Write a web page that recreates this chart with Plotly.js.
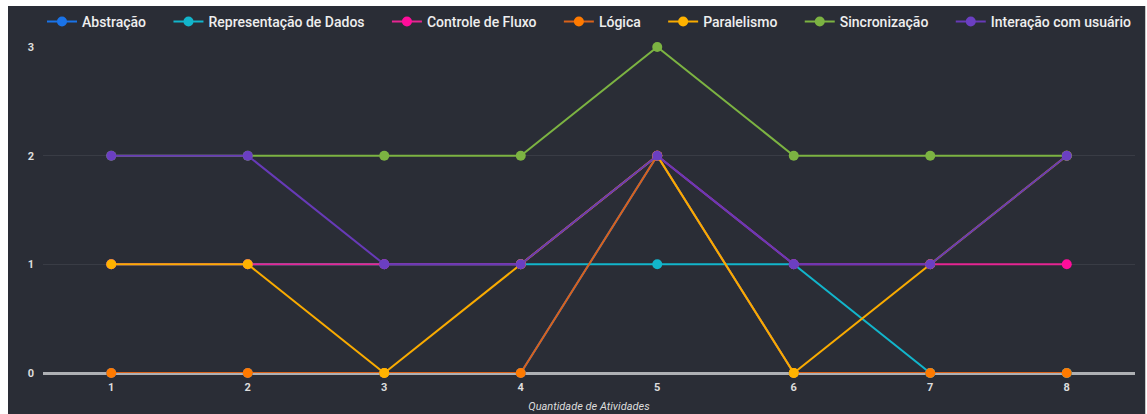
<!DOCTYPE html>
<html>
<head>
<meta charset="utf-8">
<script src="https://cdn.plot.ly/plotly-3.0.1.min.js"></script>
<style>
  html, body { margin: 0; padding: 0; background: #ffffff; width: 1147px; height: 414px; overflow: hidden; }
  #chart { position: absolute; left: 8px; top: 6px; width: 1137px; height: 408px; border-right: 1px solid #c8c8c8; }
</style>
</head>
<body>
<div id="chart"></div>
<script>
const categories = [1, 2, 3, 4, 5, 6, 7, 8];
const seriesNames = ["Abstração", "Representação de Dados", "Controle de Fluxo", "Lógica", "Paralelismo", "Sincronização", "Interação com usuário"];
const abstracao = [0, 0, 0, 0, 2, 0, 0, 0];
const representacaoDados = [1, 1, 1, 1, 1, 1, 0, 0];
const controleFluxo = [1, 1, 1, 1, 2, 1, 1, 1];
const logica = [0, 0, 0, 0, 2, 0, 0, 0];
const paralelismo = [1, 1, 0, 1, 2, 0, 1, 2];
const sincronizacao = [2, 2, 2, 2, 3, 2, 2, 2];
const interacaoUsuario = [2, 2, 1, 1, 2, 1, 1, 2];
const yTicks = [0, 1, 2, 3];
const xTitle = "Quantidade de Atividades";

const seriesValues = [abstracao, representacaoDados, controleFluxo, logica, paralelismo, sincronizacao, interacaoUsuario];
const lineColors = ["#1a73e8", "#12b5cb", "#e52592", "#d9621a", "#f9ab00", "#7cb342", "#673ab7"];
const markerColors = ["#1a73e8", "#12b5cb", "#ff0d9a", "#ff7a00", "#ffb300", "#7cb342", "#6b3fc2"];
const legendPad = "\u00a0\u00a0\u00a0\u00a0\u00a0";

const traces = seriesNames.map((name, i) => ({
  type: "scatter",
  mode: "lines+markers",
  name: name + (i < seriesNames.length - 1 ? legendPad : ""),
  x: categories,
  y: seriesValues[i],
  line: { color: lineColors[i], width: 2 },
  marker: { color: markerColors[i], size: 10 },
  cliponaxis: false
}));

const layout = {
  paper_bgcolor: "#2a2d36",
  plot_bgcolor: "#2a2d36",
  margin: { l: 35, r: 10, t: 41, b: 41, autoexpand: false },
  font: { family: "Roboto, 'Noto Sans', sans-serif", color: "#e8e8e8" },
  showlegend: true,
  legend: {
    orientation: "h",
    xref: "paper",
    x: 0.5, xanchor: "center",
    yref: "container",
    y: 0.961, yanchor: "middle",
    font: { size: 14, color: "#eeeeee", family: "Roboto, sans-serif", weight: 500 },
    itemwidth: 30,
    tracegroupgap: 0,
    bgcolor: "rgba(0,0,0,0)"
  },
  xaxis: {
    range: [0.5, 8.5],
    tickvals: categories,
    ticktext: categories.map(String),
    showgrid: false,
    zeroline: false,
    showline: false,
    ticks: "",
    ticklabelstandoff: 6,
    tickfont: { size: 11, color: "#dddddd", family: "Roboto, sans-serif", weight: "bold" },
    title: { text: xTitle, font: { size: 11, color: "#dddddd", family: "Roboto, sans-serif", style: "italic" }, standoff: 9 },
    fixedrange: true
  },
  yaxis: {
    range: [0, 3],
    tickvals: yTicks,
    showgrid: true,
    gridcolor: "#393c45",
    gridwidth: 1,
    zeroline: true,
    zerolinecolor: "#aeb0b4",
    zerolinewidth: 3,
    ticks: "",
    ticklabelstandoff: 8,
    tickfont: { size: 11, color: "#dddddd", family: "Roboto, sans-serif", weight: "bold" },
    fixedrange: true
  }
};

Plotly.newPlot("chart", traces, layout, { displayModeBar: false, staticPlot: true });
</script>
</body>
</html>
